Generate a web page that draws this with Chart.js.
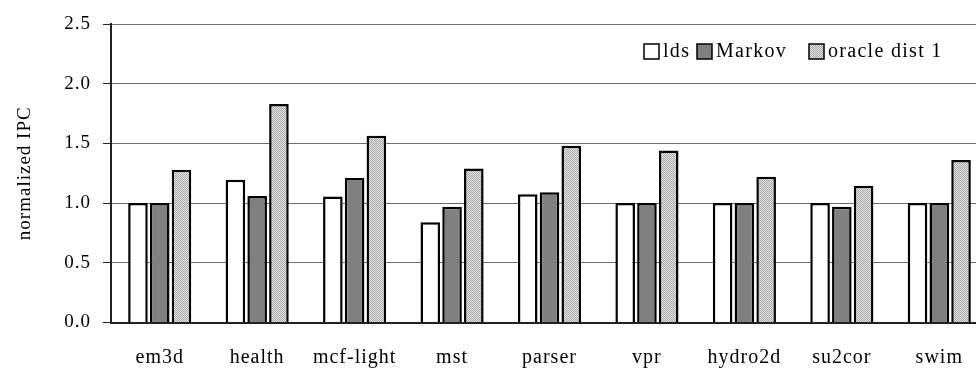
<!DOCTYPE html>
<html>
<head>
<meta charset="utf-8">
<script src="https://cdn.jsdelivr.net/npm/chart.js@4"></script>
<style>
    html, body { margin: 0; padding: 0; background: #fff; overflow: hidden; }
    #wrap { width: 990px; height: 369px; }
</style>
</head>
<body>
<div id="wrap"><canvas id="ipcChart"></canvas></div>
<script>
const benchmarks = ['em3d', 'health', 'mcf-light', 'mst', 'parser', 'vpr', 'hydro2d', 'su2cor', 'swim'];
const ldsValues = [1.00, 1.195, 1.055, 0.84, 1.075, 1.00, 1.00, 1.00, 1.00];
const markovValues = [1.00, 1.06, 1.21, 0.97, 1.09, 1.00, 1.00, 0.97, 1.00];
const oracleValues = [1.28, 1.83, 1.565, 1.29, 1.48, 1.44, 1.22, 1.145, 1.36];
const yTicks = [0, 0.5, 1.0, 1.5, 2.0, 2.5];

const serif = "'Liberation Serif', 'Times New Roman', serif";

// fine dotted grey fill like the old excel pattern
function make_Pattern() {
    const c = document.createElement('canvas');
    c.width = 2;
    c.height = 2;
    const g = c.getContext('2d');
    g.fillStyle = '#e0e0e0';
    g.fillRect(0, 0, 2, 2);
    g.fillStyle = '#ababab';
    g.fillRect(0, 0, 1, 1);
    g.fillRect(1, 1, 1, 1);
    return g.createPattern(c, 'repeat');
}

const spacingPlugin = {
    id: 'spacing',
    beforeDraw(chart) {
        chart.ctx.letterSpacing = '1px';
    }
};

// legend drawn inside the plot, top right
const boxLegend = {
    id: 'boxLegend',
    afterDraw(chart) {
        const ctx = chart.ctx;
        const top = 44;
        const boxX = [644, 697, 809];
        ctx.save();
        ctx.letterSpacing = '1.3px';
        ctx.font = '20px ' + serif;
        ctx.textBaseline = 'middle';
        chart.data.datasets.forEach((ds, i) => {
            const x = boxX[i];
            ctx.fillStyle = ds.backgroundColor;
            ctx.fillRect(x, top, 15, 15);
            ctx.lineWidth = 1.5;
            ctx.strokeStyle = '#000';
            ctx.strokeRect(x, top, 15, 15);
            ctx.fillStyle = '#000';
            ctx.fillText(ds.label, x + 19, top + 8);
        });
        ctx.restore();
    }
};

function create_Graph() {
    const ctx = document.getElementById('ipcChart').getContext('2d');
    const oraclePattern = make_Pattern();

    new Chart(ctx, {
        type: 'bar',
        data: {
            labels: benchmarks,
            datasets: [
                { label: 'lds', data: ldsValues, backgroundColor: '#ffffff' },
                { label: 'Markov', data: markovValues, backgroundColor: '#808080' },
                { label: 'oracle dist 1', data: oracleValues, backgroundColor: oraclePattern }
            ]
        },
        options: {
            responsive: true,
            maintainAspectRatio: false,
            animation: false,
            layout: { padding: { top: 24, right: 2, left: 0, bottom: 0 } },
            datasets: {
                bar: {
                    borderColor: '#000',
                    borderWidth: 2.5,
                    categoryPercentage: 0.67,
                    barPercentage: 0.9
                }
            },
            plugins: {
                legend: { display: false },
                tooltip: { enabled: false }
            },
            scales: {
                x: {
                    grid: { display: false },
                    border: { display: true, color: '#222', width: 2 },
                    ticks: {
                        color: '#000',
                        font: { family: serif, size: 20 },
                        padding: 15,
                        maxRotation: 0,
                        autoSkip: false
                    },
                    afterFit(scale) { scale.height = 46.5; }
                },
                y: {
                    min: 0,
                    max: 2.5,
                    afterBuildTicks(scale) {
                        scale.ticks = yTicks.map(v => ({ value: v }));
                    },
                    grid: {
                        color: '#6e6e6e',
                        lineWidth: 1,
                        tickLength: 8,
                        tickColor: '#222'
                    },
                    border: { display: true, color: '#222', width: 2 },
                    ticks: {
                        color: '#000',
                        font: { family: serif, size: 19 },
                        padding: 12,
                        callback: v => Number(v).toFixed(1)
                    },
                    title: {
                        display: true,
                        text: 'normalized IPC',
                        color: '#000',
                        font: { family: serif, size: 19 },
                        padding: { top: 14, bottom: 0 }
                    },
                    afterFit(scale) { scale.width = 111; }
                }
            }
        },
        plugins: [spacingPlugin, boxLegend]
    });
}

window.onload = create_Graph;
</script>
</body>
</html>
